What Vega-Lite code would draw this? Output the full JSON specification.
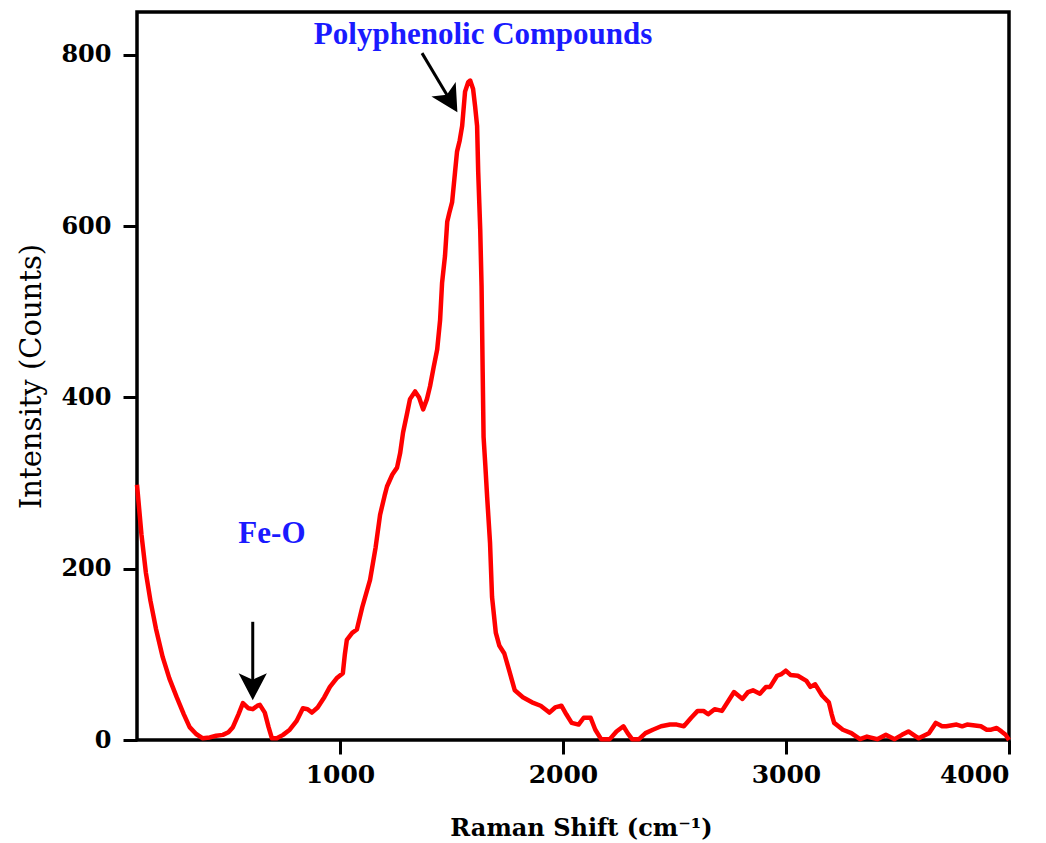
{
  "$schema": "https://vega.github.io/schema/vega-lite/v6.json",
  "width": 872,
  "height": 728,
  "autosize": "none",
  "padding": {"left": 137, "top": 12, "right": 37, "bottom": 103},
  "background": "white",
  "config": {
    "view": {"stroke": "black", "strokeWidth": 3.5},
    "axis": {"grid": false, "domain": false, "tickColor": "black", "tickWidth": 3, "tickSize": 14, "labelColor": "black", "titleColor": "black"}
  },
  "datasets": {
    "spectrum": [
      {"shift": 90, "intensity": 298}, {"shift": 110, "intensity": 240}, {"shift": 130, "intensity": 195},
      {"shift": 150, "intensity": 163}, {"shift": 175, "intensity": 130}, {"shift": 205, "intensity": 97},
      {"shift": 235, "intensity": 72}, {"shift": 268, "intensity": 50}, {"shift": 300, "intensity": 30},
      {"shift": 326, "intensity": 15}, {"shift": 355, "intensity": 7}, {"shift": 385, "intensity": 2},
      {"shift": 416, "intensity": 3}, {"shift": 445, "intensity": 5}, {"shift": 475, "intensity": 6},
      {"shift": 500, "intensity": 9}, {"shift": 520, "intensity": 15}, {"shift": 545, "intensity": 30},
      {"shift": 565, "intensity": 43}, {"shift": 590, "intensity": 37}, {"shift": 609, "intensity": 36},
      {"shift": 630, "intensity": 40}, {"shift": 641, "intensity": 41}, {"shift": 663, "intensity": 32},
      {"shift": 680, "intensity": 15}, {"shift": 695, "intensity": 2}, {"shift": 717, "intensity": 2},
      {"shift": 745, "intensity": 6}, {"shift": 775, "intensity": 12}, {"shift": 805, "intensity": 22},
      {"shift": 834, "intensity": 37}, {"shift": 855, "intensity": 36}, {"shift": 874, "intensity": 32},
      {"shift": 900, "intensity": 38}, {"shift": 930, "intensity": 50}, {"shift": 955, "intensity": 62},
      {"shift": 985, "intensity": 72}, {"shift": 1013, "intensity": 78}, {"shift": 1022, "intensity": 100},
      {"shift": 1031, "intensity": 117}, {"shift": 1055, "intensity": 125}, {"shift": 1076, "intensity": 129},
      {"shift": 1100, "intensity": 155}, {"shift": 1135, "intensity": 187}, {"shift": 1160, "intensity": 225},
      {"shift": 1180, "intensity": 263}, {"shift": 1200, "intensity": 285}, {"shift": 1211, "intensity": 296},
      {"shift": 1235, "intensity": 310}, {"shift": 1256, "intensity": 318}, {"shift": 1270, "intensity": 335},
      {"shift": 1283, "intensity": 359}, {"shift": 1300, "intensity": 380}, {"shift": 1314, "intensity": 398},
      {"shift": 1337, "intensity": 407}, {"shift": 1355, "intensity": 400}, {"shift": 1373, "intensity": 386},
      {"shift": 1390, "intensity": 398}, {"shift": 1404, "intensity": 413}, {"shift": 1420, "intensity": 435},
      {"shift": 1436, "intensity": 456}, {"shift": 1449, "intensity": 490}, {"shift": 1458, "intensity": 534},
      {"shift": 1471, "intensity": 565}, {"shift": 1481, "intensity": 605}, {"shift": 1490, "intensity": 615},
      {"shift": 1503, "intensity": 628}, {"shift": 1516, "intensity": 663}, {"shift": 1525, "intensity": 687},
      {"shift": 1537, "intensity": 700}, {"shift": 1548, "intensity": 717}, {"shift": 1561, "intensity": 757},
      {"shift": 1575, "intensity": 768}, {"shift": 1584, "intensity": 770}, {"shift": 1597, "intensity": 760},
      {"shift": 1606, "intensity": 740}, {"shift": 1615, "intensity": 717}, {"shift": 1620, "intensity": 663},
      {"shift": 1629, "intensity": 596}, {"shift": 1635, "intensity": 530}, {"shift": 1640, "intensity": 430},
      {"shift": 1644, "intensity": 354}, {"shift": 1652, "intensity": 320}, {"shift": 1660, "intensity": 284},
      {"shift": 1673, "intensity": 230}, {"shift": 1682, "intensity": 167}, {"shift": 1699, "intensity": 125},
      {"shift": 1715, "intensity": 110}, {"shift": 1737, "intensity": 101}, {"shift": 1760, "intensity": 80},
      {"shift": 1784, "intensity": 58}, {"shift": 1820, "intensity": 50}, {"shift": 1861, "intensity": 44},
      {"shift": 1900, "intensity": 40}, {"shift": 1939, "intensity": 32}, {"shift": 1965, "intensity": 38},
      {"shift": 1993, "intensity": 40}, {"shift": 2015, "intensity": 30}, {"shift": 2039, "intensity": 20},
      {"shift": 2070, "intensity": 18}, {"shift": 2093, "intensity": 26}, {"shift": 2124, "intensity": 26},
      {"shift": 2145, "intensity": 12}, {"shift": 2171, "intensity": 1}, {"shift": 2210, "intensity": 1},
      {"shift": 2240, "intensity": 10}, {"shift": 2271, "intensity": 16}, {"shift": 2290, "intensity": 8},
      {"shift": 2310, "intensity": 1}, {"shift": 2341, "intensity": 1}, {"shift": 2370, "intensity": 8},
      {"shift": 2403, "intensity": 12}, {"shift": 2440, "intensity": 16}, {"shift": 2480, "intensity": 18},
      {"shift": 2510, "intensity": 18}, {"shift": 2542, "intensity": 16}, {"shift": 2575, "intensity": 26},
      {"shift": 2604, "intensity": 34}, {"shift": 2630, "intensity": 34}, {"shift": 2651, "intensity": 30},
      {"shift": 2680, "intensity": 36}, {"shift": 2713, "intensity": 34}, {"shift": 2740, "intensity": 45},
      {"shift": 2767, "intensity": 56}, {"shift": 2805, "intensity": 48}, {"shift": 2830, "intensity": 56},
      {"shift": 2852, "intensity": 58}, {"shift": 2883, "intensity": 54}, {"shift": 2910, "intensity": 62},
      {"shift": 2929, "intensity": 62}, {"shift": 2960, "intensity": 75}, {"shift": 2980, "intensity": 77},
      {"shift": 2999, "intensity": 81}, {"shift": 3020, "intensity": 76}, {"shift": 3053, "intensity": 75},
      {"shift": 3092, "intensity": 69}, {"shift": 3110, "intensity": 62}, {"shift": 3131, "intensity": 65},
      {"shift": 3162, "intensity": 52}, {"shift": 3192, "intensity": 44}, {"shift": 3205, "intensity": 30},
      {"shift": 3216, "intensity": 20}, {"shift": 3255, "intensity": 12}, {"shift": 3293, "intensity": 8},
      {"shift": 3332, "intensity": 1}, {"shift": 3363, "intensity": 4}, {"shift": 3409, "intensity": 1},
      {"shift": 3448, "intensity": 6}, {"shift": 3487, "intensity": 1}, {"shift": 3520, "intensity": 6},
      {"shift": 3549, "intensity": 10}, {"shift": 3595, "intensity": 2}, {"shift": 3641, "intensity": 8},
      {"shift": 3672, "intensity": 20}, {"shift": 3700, "intensity": 16}, {"shift": 3719, "intensity": 16},
      {"shift": 3765, "intensity": 18}, {"shift": 3790, "intensity": 16}, {"shift": 3812, "intensity": 18},
      {"shift": 3874, "intensity": 16}, {"shift": 3900, "intensity": 12}, {"shift": 3920, "intensity": 12},
      {"shift": 3945, "intensity": 14}, {"shift": 3966, "intensity": 10}, {"shift": 3985, "intensity": 6},
      {"shift": 4000, "intensity": 0}
    ],
    "labels": [
      {"label": "Polyphenolic Compounds", "shift": 1642, "intensity": 813},
      {"label": "Fe-O", "shift": 695, "intensity": 230}
    ],
    "shafts": [
      {"shift": 609, "intensity": 138, "shift2": 609, "intensity2": 63},
      {"shift": 1368, "intensity": 802, "shift2": 1494, "intensity2": 747}
    ],
    "heads": [
      {"shift": 609, "intensity": 63, "angle": 0},
      {"shift": 1494, "intensity": 747, "angle": 329}
    ]
  },
  "layer": [
    {
      "data": {"name": "spectrum"},
      "mark": {"type": "line", "color": "#ff0000", "strokeWidth": 4.5, "strokeJoin": "round"},
      "encoding": {
        "x": {
          "field": "shift", "type": "quantitative",
          "scale": {"domain": [90, 4000], "nice": false, "zero": false},
          "axis": {
            "values": [1000, 2000, 3000, 4000],
            "format": "d",
            "title": "Raman Shift (cm⁻¹)",
            "labelFont": "DejaVu Serif", "labelFontSize": 25, "labelFontWeight": "bold", "labelPadding": 8,
            "titleFont": "DejaVu Serif", "titleFontSize": 24, "titleFontWeight": "bold",
            "titleY": 95, "titleBaseline": "alphabetic", "titleX": 444, "titleAlign": "center"
          }
        },
        "y": {
          "field": "intensity", "type": "quantitative",
          "scale": {"domain": [0, 850], "nice": false},
          "axis": {
            "values": [0, 200, 400, 600, 800],
            "title": "Intensity (Counts)",
            "labelFont": "DejaVu Serif", "labelFontSize": 24, "labelFontWeight": "bold", "labelPadding": 12,
            "titleFont": "DejaVu Serif", "titleFontSize": 29, "titleFontWeight": "normal",
            "titleX": -97, "titleBaseline": "alphabetic"
          }
        }
      }
    },
    {
      "data": {"name": "shafts"},
      "mark": {"type": "rule", "color": "black", "strokeWidth": 3},
      "encoding": {
        "x": {"field": "shift", "type": "quantitative"},
        "y": {"field": "intensity", "type": "quantitative"},
        "x2": {"field": "shift2"},
        "y2": {"field": "intensity2"}
      }
    },
    {
      "data": {"name": "heads"},
      "mark": {"type": "point", "shape": "M0,1L-1,-0.9L0,-0.45L1,-0.9Z", "filled": true, "color": "black", "opacity": 1, "size": 800},
      "encoding": {
        "x": {"field": "shift", "type": "quantitative"},
        "y": {"field": "intensity", "type": "quantitative"},
        "angle": {"field": "angle", "type": "quantitative", "scale": null}
      }
    },
    {
      "data": {"name": "labels"},
      "mark": {"type": "text", "font": "Liberation Serif", "fontWeight": "bold", "fontSize": 31, "color": "#1a1aff", "align": "center", "baseline": "alphabetic"},
      "encoding": {
        "x": {"field": "shift", "type": "quantitative"},
        "y": {"field": "intensity", "type": "quantitative"},
        "text": {"field": "label"}
      }
    }
  ]
}
